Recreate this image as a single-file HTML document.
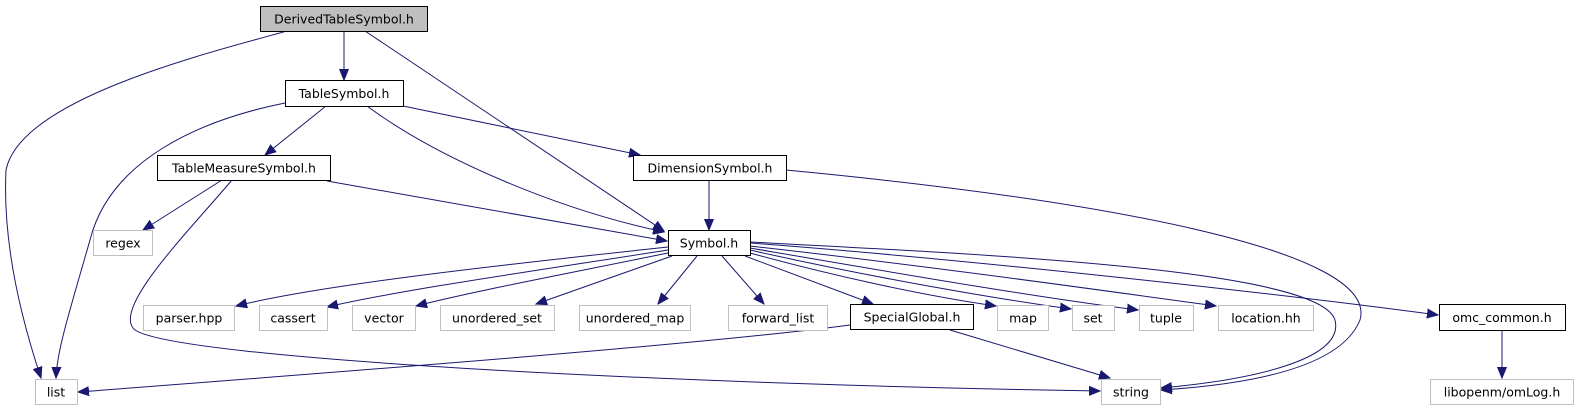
<!DOCTYPE html>
<html><head><meta charset="utf-8"><style>
html,body{margin:0;padding:0;background:#fff;width:1579px;height:411px;overflow:hidden}
svg text{font-family:"DejaVu Sans","Liberation Sans",sans-serif;font-size:12.5px;fill:#000}
</style></head><body>
<svg width="1579" height="411" viewBox="0 0 1579 411" xmlns="http://www.w3.org/2000/svg">
<defs><marker id="a" markerUnits="userSpaceOnUse" markerWidth="12" markerHeight="10" refX="11" refY="5" orient="auto"><path d="M0,0.5 L11,5 L0,9.5 z" fill="#191970" stroke="#191970"/></marker></defs>
<g fill="none" stroke="#191970" stroke-width="1" marker-end="url(#a)">
<path d="M287,31 C200,55 20,100 6,170 C2,250 25,330 41,378"/>
<path d="M344,31 L344,80"/>
<path d="M365,31 L664,231"/>
<path d="M285,103 C200,120 110,160 90,240 C70,310 57,350 56,378"/>
<path d="M326,106 L265,155"/>
<path d="M367,106 C440,160 560,210 664,232"/>
<path d="M403,106 L640,155"/>
<path d="M222,180 L143,230"/>
<path d="M232,180 C190,230 110,310 135,330 C180,360 700,385 1100,391"/>
<path d="M327,181 L667,241"/>
<path d="M709,180 L709,230"/>
<path d="M786,170 C1100,200 1380,250 1360,320 C1340,370 1240,385 1161,390"/>
<path d="M750,242 C1000,255 1320,270 1335,320 C1345,360 1250,380 1161,388"/>
<path d="M668,247 C500,265 320,285 236,306"/>
<path d="M668,250 C540,270 400,290 327,307"/>
<path d="M668,253 C560,275 470,292 416,306"/>
<path d="M672,256 L536,304"/>
<path d="M697,256 L658,304"/>
<path d="M722,256 L764,304"/>
<path d="M745,256 L873,304"/>
<path d="M750,253 C830,275 920,295 996,306"/>
<path d="M750,250 C860,275 990,298 1071,309"/>
<path d="M750,248 C890,272 1040,298 1138,310"/>
<path d="M750,246 C920,265 1100,290 1216,306"/>
<path d="M750,243 C950,258 1250,290 1438,315"/>
<path d="M1502,330 L1502,378"/>
<path d="M850,325 C700,345 300,375 78,392"/>
<path d="M950,330 L1110,378"/>
</g>
<g stroke-width="1">
<rect x="260.5" y="6.5" width="167" height="25" fill="#bfbfbf" stroke="#000"/>
<rect x="285.5" y="80.5" width="118" height="26" fill="#fff" stroke="#000"/>
<rect x="157.5" y="155.5" width="173" height="25" fill="#fff" stroke="#000"/>
<rect x="633.5" y="155.5" width="153" height="25" fill="#fff" stroke="#000"/>
<rect x="668.5" y="230.5" width="82" height="25" fill="#fff" stroke="#000"/>
<rect x="850.5" y="304.5" width="123" height="25" fill="#fff" stroke="#000"/>
<rect x="1439.5" y="304.5" width="126" height="26" fill="#fff" stroke="#000"/>
<g fill="#fff" stroke="#bfbfbf">
<rect x="93.5" y="230.5" width="59" height="25"/>
<rect x="143.5" y="305.5" width="91" height="25"/>
<rect x="259.5" y="305.5" width="68" height="25"/>
<rect x="352.5" y="305.5" width="63" height="25"/>
<rect x="440.5" y="305.5" width="114" height="25"/>
<rect x="579.5" y="305.5" width="111" height="25"/>
<rect x="728.5" y="305.5" width="99" height="25"/>
<rect x="997.5" y="305.5" width="51" height="25"/>
<rect x="1072.5" y="305.5" width="42" height="25"/>
<rect x="1139.5" y="305.5" width="54" height="25"/>
<rect x="1218.5" y="305.5" width="95" height="25"/>
<rect x="35.5" y="379.5" width="42" height="25"/>
<rect x="1101.5" y="379.5" width="59" height="25"/>
<rect x="1430.5" y="379.5" width="143" height="25"/>
</g>
</g>
<g text-anchor="middle">
<text x="344" y="23.5">DerivedTableSymbol.h</text>
<text x="344" y="98">TableSymbol.h</text>
<text x="244" y="172.5">TableMeasureSymbol.h</text>
<text x="710" y="172.5">DimensionSymbol.h</text>
<text x="709" y="247.5">Symbol.h</text>
<text x="123" y="247.5">regex</text>
<text x="189" y="322.5">parser.hpp</text>
<text x="293" y="322.5">cassert</text>
<text x="384" y="322.5">vector</text>
<text x="497" y="322.5">unordered_set</text>
<text x="635" y="322.5">unordered_map</text>
<text x="778" y="322.5">forward_list</text>
<text x="912" y="321.5">SpecialGlobal.h</text>
<text x="1023" y="322.5">map</text>
<text x="1093" y="322.5">set</text>
<text x="1166" y="322.5">tuple</text>
<text x="1266" y="322.5">location.hh</text>
<text x="1502" y="322">omc_common.h</text>
<text x="56" y="396.5">list</text>
<text x="1131" y="396.5">string</text>
<text x="1502" y="396.5">libopenm/omLog.h</text>
</g>
</svg>
</body></html>
